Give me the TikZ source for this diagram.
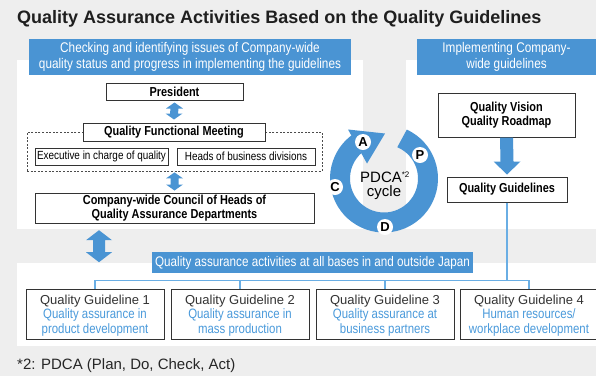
\documentclass[tikz,border=0pt]{standalone}
\usepackage{fontspec}
\setmainfont{Liberation Sans}
\newfontfamily\cnd[FakeStretch=0.84]{Liberation Sans}
\usetikzlibrary{calc}
\definecolor{bgray}{HTML}{EEEEEE}
\definecolor{hblue}{HTML}{4A94D3}
\definecolor{tblue}{HTML}{4A9ADB}
\definecolor{lblue}{HTML}{6AAEE4}
\definecolor{dline}{HTML}{333333}
\newcommand\dblarrow[5]{%
  \fill[hblue] (#1) -- ($(#1)+(#4,#5)$) -- ($(#1)+(#3,#5)$) -- ($(#2)+(#3,-#5)$) -- ($(#2)+(#4,-#5)$) -- (#2)
   -- ($(#2)+(-#4,-#5)$) -- ($(#2)+(-#3,-#5)$) -- ($(#1)+(-#3,#5)$) -- ($(#1)+(-#4,#5)$) -- cycle;}
\newcommand\sglarrow[5]{%
  \fill[hblue] (#1) -- ($(#1)+(#3,0)$) -- ($(#2)+(#3,-#5)$) -- ($(#2)+(#4,-#5)$) -- (#2)
   -- ($(#2)+(-#4,-#5)$) -- ($(#2)+(-#3,-#5)$) -- ($(#1)+(-#3,0)$) -- cycle;}
\begin{document}
\begin{tikzpicture}[x=1pt,y=-1pt,
  panel/.style={fill=white,inner sep=0,draw=none},
  hdr/.style={fill=hblue,text=white,inner sep=0,minimum height=36,align=center,
     font=\cnd\fontsize{14}{16}\selectfont},
  bbox/.style={draw=dline,line width=1pt,fill=white,inner sep=0,align=center,
     font=\cnd\bfseries\fontsize{13}{14.5}\selectfont},
  sbox/.style={draw=dline,line width=1pt,fill=white,inner sep=0,align=center,
     minimum height=17,font=\cnd\fontsize{11.8}{14}\selectfont},
  gbox/.style={draw=dline,line width=1pt,fill=white,inner sep=0,align=center,
     minimum width=138,minimum height=50},
  letter/.style={circle,fill=white,inner sep=0,minimum size=16,
     font=\bfseries\fontsize{13}{13}\selectfont},
  cline/.style={draw=lblue,line width=1.2pt}]
\fill[bgray] (0,0) rectangle (596,376);
\useasboundingbox (0,0) rectangle (596,376);
\node[anchor=west,text=black!88,font=\bfseries\fontsize{18}{20}\selectfont,inner sep=0] (title) at (17,19)
  {Quality Assurance Activities Based on the Quality Guidelines};
% panels
\node[panel,minimum width=346,minimum height=169] (lp) at (190,144.5) {};
\node[panel,minimum width=190,minimum height=169] (rp) at (501,144.5) {};
\node[panel,minimum width=579,minimum height=83] (bp) at (306.5,304.5) {};
% headers
\node[hdr,minimum width=322] (lh) at (190,57)
  {Checking and identifying issues of Company-wide\\quality status and progress in implementing the guidelines};
\node[hdr,minimum width=179] (rh) at (506.5,57) {Implementing Company-\\wide guidelines};
% left panel boxes
\node[bbox,minimum width=137,minimum height=17] (pr) at (174.5,91.5) {President};
\node[draw=black!70,dash pattern=on 2pt off 1.6pt,line width=0.8pt,inner sep=0,
  minimum width=295,minimum height=39] (dbox) at (174.5,151.5) {};
\node[bbox,minimum width=182,minimum height=18] (qfm) at (174,132) {Quality Functional Meeting};
\node[sbox,minimum width=133] (ex) at (101.5,156.5) {Executive in charge of quality};
\node[sbox,minimum width=138] (hd) at (246,156.5) {Heads of business divisions};
\node[bbox,minimum width=279,minimum height=30] (cc) at (174.5,208)
  {Company-wide Council of Heads of\\Quality Assurance Departments};
\coordinate (a1t) at ($(pr.south)+(0,2)$);
\coordinate (a1b) at ($(qfm.north)+(0,-3)$);
\dblarrow{a1t}{a1b}{4}{8.5}{6}
\coordinate (a2t) at ($(dbox.south)+(0,1)$);
\coordinate (a2b) at ($(cc.north)+(0,-2)$);
\dblarrow{a2t}{a2b}{4}{8.5}{6}
\coordinate (a3t) at ($(lp.south)+(-91,1)$);
\coordinate (a3b) at ($(a3t)+(0,32)$);
\dblarrow{a3t}{a3b}{6}{13}{10}
% right panel
\node[bbox,minimum width=137,minimum height=44] (qv) at (506.5,115) {Quality Vision\\Quality Roadmap};
\node[bbox,minimum width=120,minimum height=25] (qg) at (507,189.5) {Quality Guidelines};
\coordinate (a4t) at (qv.south);
\coordinate (a4b) at ($(qg.north)+(0,-2)$);
\sglarrow{a4t}{a4b}{6.5}{13.5}{13}
% PDCA ring
\begin{scope}[shift={(384,178.5)},yscale=-1]
\fill[hblue] (65:54) arc[start angle=65,end angle=-233.1,radius=54]
  -- (-228.3:34) arc[start angle=-228.3,end angle=67,radius=34] -- cycle;
\fill[hblue] (1,45) -- (-36,49) -- (-17,15) -- cycle;
\end{scope}
\node[letter] (lA) at (363,142) {A};
\node[letter] (lP) at (420,155) {P};
\node[letter] (lC) at (335,187) {C};
\node[letter] (lD) at (385,227) {D};
\node[font=\fontsize{15}{15}\selectfont,inner sep=0] (pdca) at (381,177)
  {PDCA\rlap{\raisebox{5pt}{\fontsize{8}{8}\selectfont *2}}};
\node[font=\fontsize{15}{15}\selectfont,inner sep=0] (cyc) at (384,193) {cycle};
% bottom
\node[fill=hblue,text=white,inner sep=0,minimum width=321,minimum height=21,
  font=\cnd\fontsize{13.9}{15}\selectfont] (ban) at (312.5,262.5)
  {Quality assurance activities at all bases in and outside Japan};
\node[gbox] (g1) at (95,314) {};
\node[gbox] (g2) at (240,314) {};
\node[gbox] (g3) at (385,314) {};
\node[gbox] (g4) at (529,314) {};
\foreach \i/\a/\b in {1/Quality assurance in/product development,
                      2/Quality assurance in/mass production,
                      3/Quality assurance at/business partners,
                      4/Human resources\slash/workplace development}{
  \node[inner sep=0,text=black!80,font=\fontsize{13}{13}\selectfont] (t\i) at ($(g\i.center)+(0,-13)$) {Quality Guideline \i};
  \node[inner sep=0,text=tblue,align=center,font=\cnd\fontsize{13.6}{15}\selectfont] (s\i) at ($(g\i.center)+(0,8.5)$) {\a\\\b};
}
\coordinate (hl) at ($(g1.north)+(0,-8)$);
\draw[cline] (g1.north) -- (hl) -| (g4.north);
\draw[cline] (g2.north) -- (g2.north |- hl);
\draw[cline] (g3.north) -- (g3.north |- hl);
\draw[cline] (qg.south) -- (qg.south |- hl);
\node[anchor=west,inner sep=0,text=black!85,font=\fontsize{15}{15}\selectfont] (fn) at (17,366)
  {*2: PDCA (Plan, Do, Check, Act)};
\end{tikzpicture}
\end{document}
